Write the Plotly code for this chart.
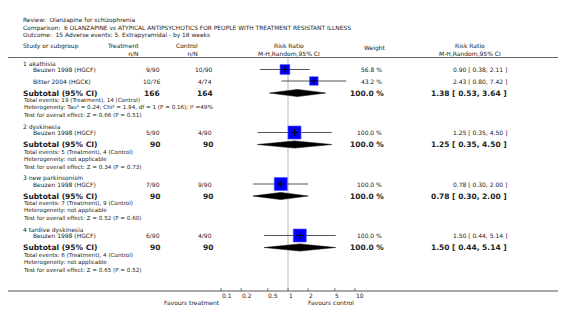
import math
import plotly.graph_objects as go

# ---------------- data ----------------
title_lines = [
    "Review:  Olanzapine for schizophrenia",
    "Comparison:  6 OLANZAPINE vs ATYPICAL ANTIPSYCHOTICS FOR PEOPLE WITH TREATMENT RESISTANT ILLNESS",
    "Outcome:  15 Adverse events: 5. Extrapyramidal - by 18 weeks",
]
group_names = ["1 akathisia", "2 dyskinesia", "3 new parkinsonism", "4 tardive dyskinesia"]
study_group = [0, 0, 1, 2, 3]
study_names = ["Beuzen 1998 (HGCF)", "Bitter 2004 (HGCK)", "Beuzen 1998 (HGCF)",
               "Beuzen 1998 (HGCF)", "Beuzen 1998 (HGCF)"]
treat_nN = ["9/90", "10/76", "5/90", "7/90", "6/90"]
ctrl_nN = ["10/90", "4/74", "4/90", "9/90", "4/90"]
study_weight = [56.8, 43.2, 100.0, 100.0, 100.0]
study_rr = [0.90, 2.43, 1.25, 0.78, 1.50]
study_lo = [0.38, 0.80, 0.35, 0.30, 0.44]
study_hi = [2.11, 7.42, 4.50, 2.00, 5.14]

sub_treat_N = [166, 90, 90, 90]
sub_ctrl_N = [164, 90, 90, 90]
sub_weight = [100.0, 100.0, 100.0, 100.0]
sub_rr = [1.38, 1.25, 0.78, 1.50]
sub_lo = [0.53, 0.35, 0.30, 0.44]
sub_hi = [3.64, 4.50, 2.00, 5.14]
total_events = [
    "Total events: 19 (Treatment), 14 (Control)",
    "Total events: 5 (Treatment), 4 (Control)",
    "Total events: 7 (Treatment), 9 (Control)",
    "Total events: 6 (Treatment), 4 (Control)",
]
heterogeneity = [
    "Heterogeneity: Tau² = 0.24; Chi² = 1.94, df = 1 (P = 0.16); I² =49%",
    "Heterogeneity: not applicable",
    "Heterogeneity: not applicable",
    "Heterogeneity: not applicable",
]
overall_effect = [
    "Test for overall effect: Z = 0.66 (P = 0.51)",
    "Test for overall effect: Z = 0.34 (P = 0.73)",
    "Test for overall effect: Z = 0.52 (P = 0.60)",
    "Test for overall effect: Z = 0.65 (P = 0.52)",
]
tick_vals = [0.1, 0.2, 0.5, 1, 2, 5, 10]
tick_labels = ["0.1", "0.2", "0.5", "1", "2", "5", "10"]
favours_left = "Favours treatment"
favours_right = "Favours control"

# ---------------- layout geometry ----------------
W, H = 566, 313
FONT = "DejaVu Sans"
TXT = "#222222"
X_NULL_PX = 280.0
PX_PER_DEC = 67.0
x_range = [-X_NULL_PX / PX_PER_DEC, (W - X_NULL_PX) / PX_PER_DEC]
AXIS_Y = 283


def px(x):
    return x / W


# y positions (pixel rows)
group_y, study_y, sub_y = [], [], []
y = 55.5
for g in range(len(group_names)):
    group_y.append(y)
    y += 6
    idx = [i for i, sg in enumerate(study_group) if sg == g]
    for k, i in enumerate(idx):
        if k > 0:
            y += 11.5
        study_y.append(y)
    y += 12
    sub_y.append(y)
    y += 33.5

fig = go.Figure()
ann = []


def text(x, y, s, size=6, anchor="left", bold=False, color=TXT, yanchor="middle"):
    ann.append(dict(
        x=px(x), y=y, xref="paper", yref="y", text=("<b>%s</b>" % s) if bold else s,
        showarrow=False, xanchor=anchor, yanchor=yanchor, align=anchor,
        borderpad=0, font=dict(family=FONT, size=size, color=color),
    ))


# title
text(14, 8.3, "<br>".join(title_lines), size=5.9, yanchor="top")

# column headers
text(14, 38, "Study or subgroup", size=6)
text(132, 41, "Treatment<br>n/N", size=6, anchor="right")
text(191, 41, "Control<br>n/N", size=6, anchor="right")
text(281, 41, "Risk Ratio<br>M-H,Random,95% CI", size=6, anchor="center")
text(367, 40, "Weight", size=6, anchor="center")
text(462, 41, "Risk Ratio<br>M-H,Random,95% CI", size=6, anchor="center")

# null line (x = 1)
fig.add_trace(go.Scatter(x=[1, 1], y=[50.5, AXIS_Y], mode="lines",
                         line=dict(color="#dcdcdc", width=2), hoverinfo="skip"))

# groups
for g, name in enumerate(group_names):
    text(14, group_y[g], name, size=6)
    # subtotal row
    text(14, sub_y[g], "Subtotal (95% CI)", size=7.5, bold=True)
    text(153, sub_y[g], str(sub_treat_N[g]), size=7.5, anchor="right", bold=True)
    text(206, sub_y[g], str(sub_ctrl_N[g]), size=7.5, anchor="right", bold=True)
    text(377, sub_y[g], "%.1f %%" % sub_weight[g], size=7.5, anchor="right", bold=True)
    text(500, sub_y[g], "%.2f [ %.2f, %.2f ]" % (sub_rr[g], sub_lo[g], sub_hi[g]),
         size=7.5, anchor="right", bold=True)
    # footnotes (one block, three lines)
    text(14, sub_y[g] + 3.3,
         "<br>".join([total_events[g], heterogeneity[g], overall_effect[g]]),
         size=5.6, yanchor="top")
    # diamond
    yc = sub_y[g]
    fig.add_trace(go.Scatter(
        x=[sub_lo[g], sub_rr[g], sub_hi[g], sub_rr[g], sub_lo[g]],
        y=[yc, yc - 3.6, yc, yc + 3.6, yc],
        mode="lines", fill="toself", fillcolor="#000000",
        line=dict(color="#000000", width=0.5), hoverinfo="skip"))

# studies
for i, name in enumerate(study_names):
    yy = study_y[i]
    text(24, yy, name, size=6)
    text(153, yy, treat_nN[i], size=6, anchor="right")
    text(205, yy, ctrl_nN[i], size=6, anchor="right")
    text(375, yy, "%.1f %%" % study_weight[i], size=6, anchor="right")
    text(500, yy, "%.2f [ %.2f, %.2f ]" % (study_rr[i], study_lo[i], study_hi[i]),
         size=6, anchor="right")
    fig.add_trace(go.Scatter(x=[study_lo[i], study_hi[i]], y=[yy, yy], mode="lines",
                             line=dict(color="#555555", width=1), hoverinfo="skip"))
    fig.add_trace(go.Scatter(
        x=[study_rr[i]], y=[yy], mode="markers",
        marker=dict(symbol="square", size=13.0 * math.sqrt(study_weight[i] / 100.0),
                    color="#0000ff", line=dict(color="#4d4dff", width=0.6)),
        hoverinfo="skip"))
    fig.add_trace(go.Scatter(
        x=[study_rr[i]], y=[yy], mode="markers",
        marker=dict(symbol="cross-thin", size=5, line=dict(color="#000000", width=1)),
        hoverinfo="skip"))

# axis ticks and labels
for v, lab in zip(tick_vals, tick_labels):
    fig.add_trace(go.Scatter(x=[v, v], y=[AXIS_Y - 3, AXIS_Y], mode="lines",
                             line=dict(color="#777777", width=1), hoverinfo="skip"))
    ann.append(dict(x=math.log10(v), y=AXIS_Y + 4.5, xref="x", yref="y", text=lab,
                    showarrow=False, xanchor="left", yanchor="middle", xshift=-0.5,
                    borderpad=0, font=dict(family=FONT, size=6, color=TXT)))
ann.append(dict(x=math.log10(tick_vals[0]), y=AXIS_Y + 11, xref="x", yref="y",
                text=favours_left, showarrow=False, xanchor="right", yanchor="middle",
                borderpad=0, font=dict(family=FONT, size=6, color=TXT)))
ann.append(dict(x=math.log10(tick_vals[-1]), y=AXIS_Y + 11, xref="x", yref="y",
                text=favours_right, showarrow=False, xanchor="right", yanchor="middle",
                borderpad=0, font=dict(family=FONT, size=6, color=TXT)))

shapes = [
    dict(type="line", xref="paper", yref="y", x0=0, x1=1, y0=49.5, y1=49.5,
         line=dict(color="#666666", width=1)),
    dict(type="line", xref="paper", yref="y", x0=0, x1=1, y0=AXIS_Y, y1=AXIS_Y,
         line=dict(color="#555555", width=1)),
]

fig.update_layout(
    width=W, height=H, margin=dict(l=0, r=0, t=0, b=0),
    paper_bgcolor="white", plot_bgcolor="white", showlegend=False,
    xaxis=dict(type="log", range=x_range, visible=False, domain=[0, 1], fixedrange=True),
    yaxis=dict(range=[H, 0], visible=False, domain=[0, 1], fixedrange=True),
    annotations=ann, shapes=shapes,
)

fig.write_html("out.html")
